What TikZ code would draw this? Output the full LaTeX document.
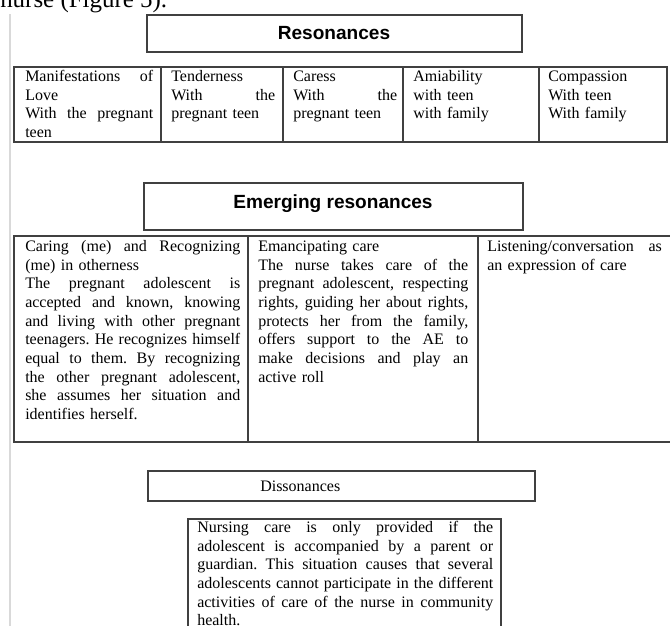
\documentclass[tikz,border=0pt]{standalone}
\usepackage{fontspec}
\setmainfont{Liberation Serif}
\newfontfamily\headfont{Liberation Sans}
\usepackage{tikz}

% one justified line of a cell
\newcommand{\jline}[1]{{\frenchspacing\spaceskip=0pt\xspaceskip=0pt\makebox[\linewidth][s]{#1}}}

\begin{document}
\begin{tikzpicture}[x=0.75pt, y=-0.75pt,
        frame/.style={draw=black!75, line width=1.1pt},
        head/.style={anchor=base, inner sep=0pt, font=\headfont\bfseries\fontsize{14.3}{17}\selectfont},
        cell/.style={anchor=base west, inner sep=0pt, align=left, font=\fontsize{12}{14}\selectfont}]
    \useasboundingbox (0,0) rectangle (670,625);
    \clip (0,0) rectangle (670,625);
    \fill[white] (0,0) rectangle (670,625);

    % page text and margin rule
    \node[anchor=base west, inner sep=0pt, font=\fontsize{18.7}{20}\selectfont] (para) at (0,7) {nurse (Figure 5).};
    \draw[black!15, line width=0.8pt] (10,14) -- (10,630);

    % resonances
    \draw[frame] (147,15) rectangle (522,52);
    \node[head] (reson) at (334,39.5) {Resonances};
    \draw[frame] (14,67) rectangle (667,142);
    \foreach \x in {161,283,403,539}
        \draw[frame] (\x,67) -- (\x,142);
    \node[cell, text width=96pt] (love) at (25,81.5) {\jline{Manifestations of}\\Love\\\jline{With the pregnant}\\teen};
    \node[cell, text width=78pt] (tender) at (171,81.5) {Tenderness\\\jline{With the}\\pregnant teen};
    \node[cell, text width=78pt] (caress) at (293,81.5) {Caress\\\jline{With the}\\pregnant teen};
    \node[cell, text width=88pt] (amiab) at (413,81.5) {Amiability\\with teen\\with family};
    \node[cell, text width=83pt] (compas) at (548,81.5) {Compassion\\With teen\\With family};

    % emerging resonances
    \draw[frame] (144,183) rectangle (523,230);
    \node[head] (emerg) at (333,208) {Emerging resonances};
    \draw[frame] (14,236) rectangle (690,442);
    \foreach \x in {248,478}
        \draw[frame] (\x,236) -- (\x,442);
    \node[cell, text width=161.25pt] (caring) at (25,251.5) {\jline{Caring (me) and Recognizing}\\(me) in otherness\\
        \jline{The pregnant adolescent is}\\\jline{accepted and known, knowing}\\
        \jline{and living with other pregnant}\\\jline{teenagers. He recognizes himself}\\
        \jline{equal to them. By recognizing}\\\jline{the other pregnant adolescent,}\\
        \jline{she assumes her situation and}\\identifies herself.};
    \node[cell, text width=157.5pt] (emanc) at (258,251.5) {Emancipating care\\
        \jline{The nurse takes care of the}\\\jline{pregnant adolescent, respecting}\\
        \jline{rights, guiding her about rights,}\\\jline{protects her from the family,}\\
        \jline{offers support to the AE to}\\\jline{make decisions and play an}\\active roll};
    \node[cell, text width=131pt] (listen) at (487,251.5) {\jline{Listening/conversation as}\\an expression of care};

    % dissonances
    \draw[frame] (148,471) rectangle (535,501);
    \node[cell] (disson) at (260,491.5) {Dissonances};
    \draw[frame] (188,519) rectangle (501,645);
    \node[cell, text width=222pt] (nursing) at (197,532.5) {\jline{Nursing care is only provided if the}\\
        \jline{adolescent is accompanied by a parent or}\\\jline{guardian. This situation causes that several}\\
        \jline{adolescents cannot participate in the different}\\\jline{activities of care of the nurse in community}\\health.};
\end{tikzpicture}
\end{document}
